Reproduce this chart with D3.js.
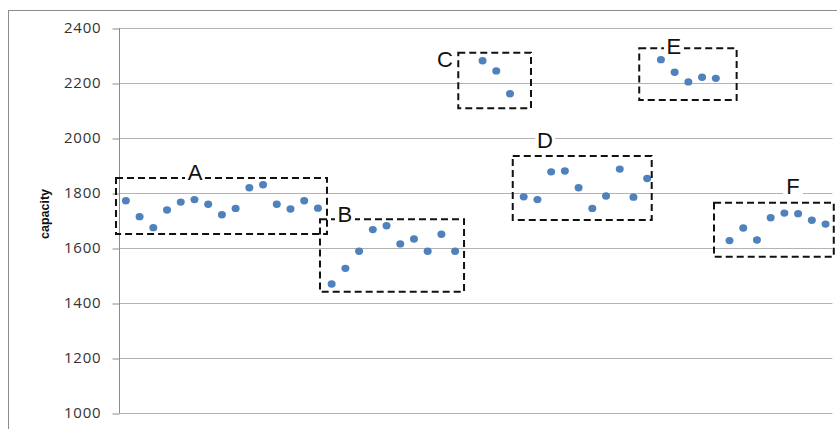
<!DOCTYPE html>
<html>
<head>
<meta charset="utf-8">
<script src="https://cdn.jsdelivr.net/npm/d3@7"></script>
<style>
  html, body { margin: 0; padding: 0; background: #fff; }
  svg { display: block; }
</style>
</head>
<body>
<script>
// ---- data ----
const yTicks = [1000, 1200, 1400, 1600, 1800, 2000, 2200, 2400];
const groupA = [1772, 1714, 1674, 1738, 1767, 1776, 1759, 1721, 1744, 1819, 1830, 1759, 1742, 1772, 1745];
const groupB = [1469, 1526, 1588, 1667, 1681, 1615, 1633, 1588, 1650, 1588];
const gap = [null];
const groupC = [2281, 2244, 2161];
const groupD = [1786, 1776, 1877, 1880, 1819, 1744, 1789, 1887, 1785, 1853];
const groupE = [2285, 2239, 2204, 2221, 2217];
const groupF = [1627, 1673, 1629, 1710, 1727, 1725, 1701, 1687];
const values = [].concat(groupA, groupB, gap, groupC, groupD, groupE, groupF);
// boxes: label, x0/x1 (category index), top/bottom (value), label position
const boxLabels = ["A", "B", "C", "D", "E", "F"];
const boxX0 = [0.28, 15.15, 25.23, 29.2, 38.42, 43.87];
const boxX1 = [15.66, 25.65, 30.53, 39.33, 45.52, 52.6];
const boxTop = [1855, 1705, 2310, 1935, 2326, 1765];
const boxBottom = [1651, 1441, 2108, 1702, 2138, 1568];
const labelX = [6.04, 16.97, 24.26, 31.55, 40.95, 49.63];
const labelY = [1847, 1696, 2258, 1964, 2305, 1798];

const W = 837, H = 429;
const svg = d3.select("body").append("svg").attr("width", W).attr("height", H);

// outer chart border
svg.append("rect").attr("x", 8.5).attr("y", 10.5).attr("width", W + 20).attr("height", H + 20)
  .attr("fill", "none").attr("stroke", "#8c8c8c").attr("stroke-width", 1);

const plotL = 119, plotR = 832.4, plotT = 28, plotB = 413;
const x = d3.scaleLinear().domain([0.5, values.length + 0.5]).range([plotL, plotR]);
const y = d3.scaleLinear().domain([1000, 2400]).range([plotB, plotT]);

// gridlines
svg.append("g").selectAll("line").data(yTicks).join("line")
  .attr("x1", plotL).attr("x2", plotR)
  .attr("y1", d => Math.round(y(d)) + 0.5).attr("y2", d => Math.round(y(d)) + 0.5)
  .attr("stroke", "#b3b3b3").attr("stroke-width", 1);

// y axis
const yAxis = d3.axisLeft(y).tickValues(yTicks).tickSize(7).tickPadding(11).tickFormat(d3.format("d"));
const gy = svg.append("g").attr("transform", `translate(${plotL + 0.5},0)`).call(yAxis);
gy.select(".domain").attr("stroke", "#8c8c8c").attr("d", `M0,${plotT}V${plotB}`);
gy.selectAll(".tick line").attr("stroke", "#8c8c8c").attr("transform", "translate(0,0.5)");
gy.selectAll(".tick text").attr("font-family", "'Open Sans', 'Liberation Sans', sans-serif")
  .attr("font-size", 15).attr("fill", "#333").attr("letter-spacing", 0.8);

// y axis title
svg.append("text").attr("transform", `translate(49,214) rotate(-90)`)
  .attr("text-anchor", "middle").attr("font-family", "'Liberation Sans', Arial, sans-serif")
  .attr("font-weight", "bold").attr("font-size", 12.5).attr("fill", "#111").text("capacity");

// points
const pts = values.map((v, i) => ({ i: i + 1, v })).filter(d => d.v !== null);
svg.append("g").selectAll("ellipse").data(pts).join("ellipse")
  .attr("cx", d => x(d.i)).attr("cy", d => y(d.v)).attr("rx", 4).attr("ry", 3.7)
  .attr("fill", "#4f81bd");

// dashed boxes
const boxes = boxLabels.map((l, k) => ({ l, x0: boxX0[k], x1: boxX1[k], t: boxTop[k], b: boxBottom[k], lx: labelX[k], ly: labelY[k] }));
svg.append("g").selectAll("rect").data(boxes).join("rect")
  .attr("x", d => x(d.x0)).attr("y", d => y(d.t))
  .attr("width", d => x(d.x1) - x(d.x0)).attr("height", d => y(d.b) - y(d.t))
  .attr("fill", "none").attr("stroke", "#111").attr("stroke-width", 2)
  .attr("stroke-dasharray", "7,4");

// labels with white background
const lg = svg.append("g").selectAll("g").data(boxes).join("g");
lg.append("rect")
  .attr("x", d => x(d.lx) - 10).attr("y", d => y(d.ly) - 17)
  .attr("width", 20).attr("height", 19).attr("fill", "#fff");
lg.append("text")
  .attr("x", d => x(d.lx)).attr("y", d => y(d.ly))
  .attr("text-anchor", "middle").attr("font-family", "'Liberation Sans', Arial, sans-serif")
  .attr("font-size", 22).attr("fill", "#111").text(d => d.l);
</script>
</body>
</html>
